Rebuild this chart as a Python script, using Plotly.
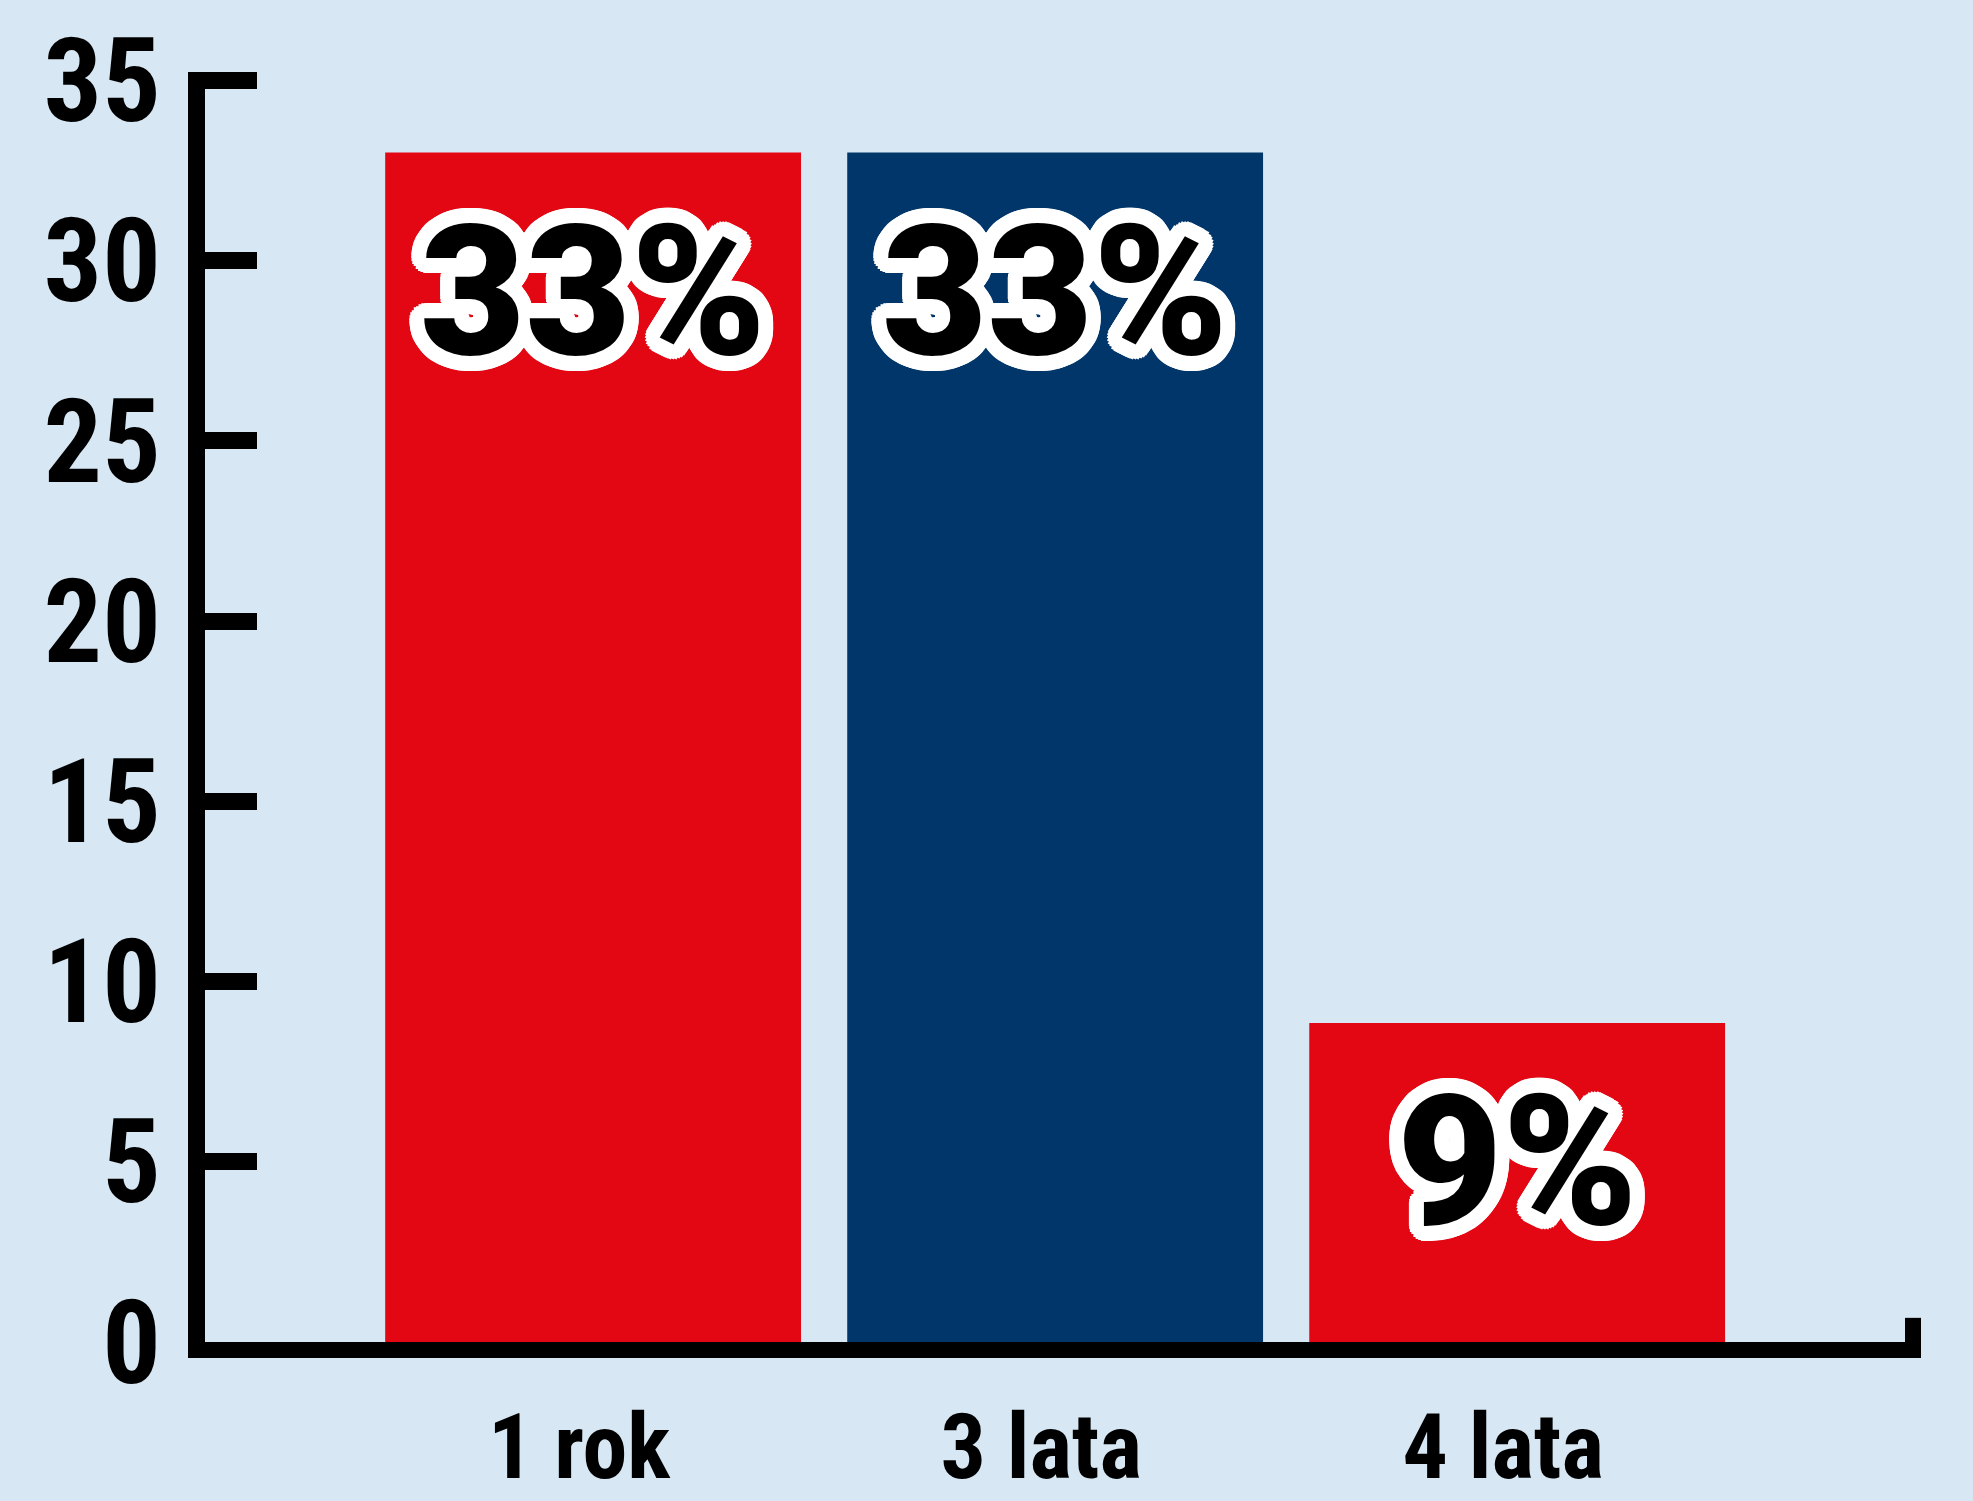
import math

import plotly.graph_objects as go

categories = ["1 rok", "3 lata", "4 lata"]
values = [33, 33, 8.85]
labels = ["33%", "33%", "9%"]
bar_colors = ["#e30613", "#00366a", "#e30613"]
y_ticks = [0, 5, 10, 15, 20, 25, 30, 35]

BG = "#d7e8f4"
TICK_FONT = "Roboto Condensed"

# white outline round the big numbers, faked with a ring of text shadows
outline = ", ".join(
    f"{15 * math.cos(a):.1f}px {15 * math.sin(a):.1f}px 0 #fff"
    for a in [i * math.pi / 16 for i in range(32)]
)

fig = go.Figure(
    go.Bar(
        x=categories,
        y=values,
        marker_color=bar_colors,
        marker_line_width=0,
        hoverinfo="skip",
    )
)

for cat, val, txt in zip(categories, values, labels):
    fig.add_annotation(
        x=cat, y=val, text=txt, showarrow=False,
        yanchor="top", yshift=-30,
        font=dict(family="Roboto", size=182, color="black", weight=900, shadow=outline),
    )

# little upturned end of the baseline
fig.add_shape(
    type="line", xref="paper", x0=-8, x1=-8, xsizemode="pixel", xanchor=1,
    yref="y", y0=0, y1=0.67,
    line=dict(color="black", width=16),
)

fig.update_layout(
    width=1973,
    height=1501,
    margin=dict(l=205, r=52, t=72, b=159, autoexpand=False),
    paper_bgcolor=BG,
    plot_bgcolor=BG,
    bargap=0.1,
    showlegend=False,
)
fig.update_xaxes(
    type="category",
    range=[-0.84, 2.874],
    automargin=False,
    showline=True, linewidth=16, linecolor="black",
    ticks="", showgrid=False, zeroline=False,
    tickfont=dict(family=TICK_FONT, size=90, color="black", weight="bold"),
    ticklabelstandoff=12,
    ticklabelshift=-14,
)
fig.update_yaxes(
    range=[0, 35.236],
    tickvals=y_ticks,
    automargin=False,
    ticks="inside", ticklen=52, tickwidth=17, tickcolor="black",
    showline=True, linewidth=17, linecolor="black",
    showgrid=False, zeroline=False,
    tickfont=dict(family=TICK_FONT, size=116, color="black", weight="bold"),
    ticklabelstandoff=4,
)

fig.write_html(
    "out.html",
    config={"displayModeBar": False},
    post_script="document.body.style.margin='0';",
)
